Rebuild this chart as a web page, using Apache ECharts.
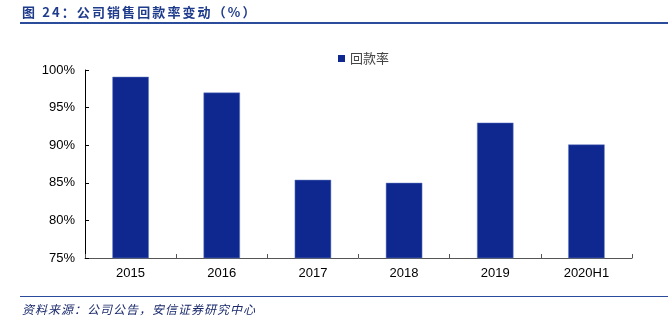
<!DOCTYPE html>
<html><head><meta charset="utf-8">
<script src="https://cdn.jsdelivr.net/npm/echarts@6/dist/echarts.min.js"></script>
<style>html,body{margin:0;padding:0;background:#fff}#c{width:668px;height:329px}</style>
</head><body><div id="c"></div>
<script>
const categories = ['2015','2016','2017','2018','2019','2020H1'];
const values = [99.1, 97.0, 85.4, 85.0, 93.0, 90.1];
const seriesName = '回款率';
const titleText = '图 24：公司销售回款率变动（%）';
const sourceText = '资料来源：公司公告，安信证券研究中心';

const ctx = document.createElement('canvas').getContext('2d');
function spacedText(str, x, y, font, color, spacing) {
  ctx.font = font;
  const els = [];
  let cx = x;
  for (const ch of str) {
    els.push({type:'text', x: cx, y: y, style:{text: ch, fill: color, font: font, textVerticalAlign:'middle'}});
    cx += ctx.measureText(ch).width + spacing;
  }
  return {type:'group', children: els};
}

const titleFont = 'bold 13px "Noto Sans CJK SC", sans-serif';
const srcFont = 'italic 12px "Noto Sans CJK SC", sans-serif';

const chart = echarts.init(document.getElementById('c'));
chart.setOption({
  animation: false,
  graphic: [
    spacedText(titleText, 22, 12, titleFont, '#1f3c8c', 2.1),
    {type:'rect', shape:{x:20,y:22,width:648,height:2}, style:{fill:'#2b4c9b'}},
    {type:'rect', shape:{x:20,y:296,width:648,height:1}, style:{fill:'#2b4c9b'}},
    spacedText(sourceText, 22, 309, srcFont, '#1a2a6c', 1.0)
  ],
  legend: {
    data:[seriesName], top: 47, left: 333, itemWidth: 7, itemHeight: 7, itemGap: 3,
    icon: 'rect',
    itemStyle:{borderWidth:0},
    textStyle:{color:'#444', fontSize:13, fontFamily:'"Noto Sans CJK SC", sans-serif'}
  },
  grid: {left: 85, right: 36, top: 70, bottom: 71, containLabel:false},
  xAxis: {
    type:'category', data: categories,
    axisLine:{lineStyle:{color:'#555', width:1}},
    axisTick:{show:true, alignWithLabel:false, length:4, inside:true, lineStyle:{color:'#555'}},
    axisLabel:{color:'#000', fontSize:13, fontFamily:'Liberation Sans, Arial', margin:9}
  },
  yAxis: {
    type:'value', min:75, max:100, interval:5,
    axisLine:{show:true, lineStyle:{color:'#000'}},
    axisTick:{show:true, inside:true, length:4, lineStyle:{color:'#000'}},
    splitLine:{show:false},
    axisLabel:{color:'#000', fontSize:13, fontFamily:'Liberation Sans, Arial', margin:10, formatter:v=>v+'%'}
  },
  series: [{
    name: seriesName, type:'bar', data: values, barWidth: '40%',
    itemStyle:{color:'#0e288f', borderColor:'#6f82c4', borderWidth:0.5}
  }]
});
</script></body></html>
